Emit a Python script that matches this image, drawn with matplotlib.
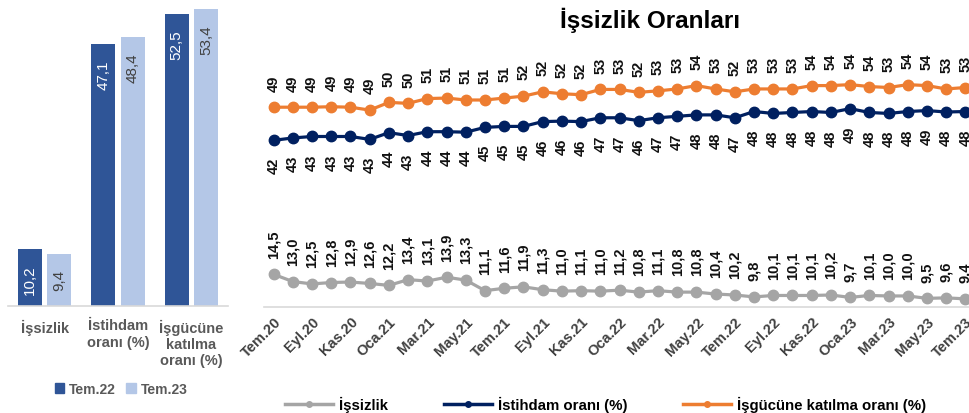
import matplotlib
matplotlib.use("Agg")
import matplotlib.pyplot as plt
from matplotlib.lines import Line2D
from matplotlib.patches import Patch
import numpy as np

plt.rcParams['font.family'] = ['Liberation Sans', 'DejaVu Sans']

# bar chart data
bar_cats = ['İşsizlik', 'İstihdam\noranı (%)', 'İşgücüne\nkatılma\noranı (%)']
tem22 = [10.2, 47.1, 52.5]
tem23 = [9.4, 48.4, 53.4]

# monthly series, Tem.20 .. Tem.23
issizlik = [14.5, 13.0, 12.5, 12.8, 12.9, 12.6, 12.2, 13.4, 13.1, 13.9, 13.3, 11.1, 11.6,
            11.9, 11.3, 11.0, 11.1, 11.0, 11.2, 10.8, 11.1, 10.8, 10.8, 10.4, 10.2, 9.8,
            10.1, 10.1, 10.1, 10.2, 9.7, 10.1, 10.0, 10.0, 9.5, 9.6, 9.4]
istihdam = [42.4, 42.9, 43.2, 43.2, 43.2, 42.6, 44.0, 43.4, 44.2, 44.2, 44.1, 45.1, 45.3,
            45.3, 46.3, 46.4, 46.3, 47.1, 47.1, 46.5, 47.1, 47.4, 47.7, 47.7, 47.1, 48.4,
            48.0, 48.2, 48.4, 48.2, 49.0, 48.2, 48.0, 48.4, 48.6, 48.3, 48.4]
katilim = [49.3, 49.3, 49.3, 49.4, 49.3, 48.7, 50.3, 50.1, 51.1, 51.2, 50.8, 50.8, 51.2,
           51.6, 52.5, 52.1, 51.9, 53.0, 53.0, 52.4, 52.7, 53.1, 53.8, 53.1, 52.5, 53.1,
           53.1, 53.1, 53.8, 53.8, 54.0, 53.6, 53.4, 54.0, 53.8, 53.1, 53.4]
tick_labels = ['Tem.20', 'Eyl.20', 'Kas.20', 'Oca.21', 'Mar.21', 'May.21', 'Tem.21',
               'Eyl.21', 'Kas.21', 'Oca.22', 'Mar.22', 'May.22', 'Tem.22', 'Eyl.22',
               'Kas.22', 'Oca.23', 'Mar.23', 'May.23', 'Tem.23']

W, H = 970, 414
fig = plt.figure(figsize=(W / 100, H / 100), dpi=100)

dark = '#2F5597'
light = '#B4C7E7'
txt = '#595959'

# ---- left: bars
ax1 = fig.add_axes([8 / W, 107 / H, 220 / W, 302 / H])
x = np.arange(len(bar_cats))
bw = 0.33
b1 = ax1.bar(x - 0.2, tem22, bw, color=dark)
b2 = ax1.bar(x + 0.2, tem23, bw, color=light)
for bars, vals, c in [(b1, tem22, 'white'), (b2, tem23, '#404040')]:
    for r, v in zip(bars, vals):
        ax1.annotate(f'{v:.1f}'.replace('.', ','), (r.get_x() + r.get_width() / 2, v),
                     xytext=(0, -11), textcoords='offset points', rotation=90,
                     ha='center', va='top', fontsize=11, color=c)
ax1.set_xlim(-0.5, 2.5)
ax1.set_ylim(0, 54.3)
ax1.set_xticks(x)
ax1.set_xticklabels(bar_cats, fontsize=10.5, color=txt, fontweight='bold', linespacing=1.2)
ax1.tick_params(axis='x', length=0, pad=9)
ax1.set_yticks([])
for s in ['top', 'right', 'left']:
    ax1.spines[s].set_visible(False)
ax1.spines['bottom'].set_color('#D9D9D9')
ax1.spines['bottom'].set_linewidth(1.2)
fig.legend(handles=[Patch(color=dark, label='Tem.22'), Patch(color=light, label='Tem.23')],
           loc='center', bbox_to_anchor=(121 / W, 1 - 390 / H), ncol=2, frameon=False,
           handlelength=0.7, handleheight=0.7, handletextpad=0.3, columnspacing=0.8,
           prop={'size': 10, 'weight': 'bold'}, labelcolor=txt)

# ---- right: lines
ax2 = fig.add_axes([264 / W, 106 / H, 711 / W, 268 / H])
t = np.arange(len(issizlik))
series = [(issizlik, '#A5A5A5', 'İşsizlik', 'up', '{:.1f}'),
          (istihdam, '#002060', 'İstihdam oranı (%)', 'down', '{:.0f}'),
          (katilim, '#ED7D31', 'İşgücüne katılma oranı (%)', 'up', '{:.0f}')]
handles = []
for vals, c, lab, pos, fmt in series:
    ax2.plot(t, vals, color=c, lw=2.3, marker='o', ms=7.5, clip_on=False, zorder=3)
    handles.append(Line2D([0], [0], color=c, lw=2.5, marker='o', ms=4, label=lab))
    for i, v in zip(t, vals):
        if pos == 'up':
            ax2.annotate(fmt.format(v).replace('.', ','), (i, v), xytext=(0, 12),
                         textcoords='offset points', rotation=90, ha='center',
                         va='bottom', fontsize=10.5, fontweight='bold', color='#111111')
        else:
            ax2.annotate(fmt.format(v), (i, v), xytext=(0, -12),
                         textcoords='offset points', rotation=90, ha='center',
                         va='top', fontsize=10.5, fontweight='bold', color='#111111')
ax2.set_xlim(-0.5, 36.5)
ax2.set_ylim(7.7, 63.5)
ax2.set_xticks(t[::2])
ax2.set_xticklabels(tick_labels, rotation=45, ha='right', va='top', rotation_mode='anchor',
                    fontsize=10.5, fontweight='bold', color='#404040')
ax2.tick_params(axis='x', length=0, pad=5)
ax2.set_yticks([])
for s in ['top', 'right', 'left']:
    ax2.spines[s].set_visible(False)
ax2.spines['bottom'].set_color('#D9D9D9')
ax2.spines['bottom'].set_linewidth(1.2)

fig.text(650 / W, 1 - 20 / H, 'İşsizlik Oranları', ha='center', va='center',
         fontsize=17.5, fontweight='bold')
fig.legend(handles=handles, loc='center left', bbox_to_anchor=(272 / W, 1 - 405 / H),
           ncol=3, frameon=False, handlelength=3.2, handletextpad=0.4, columnspacing=3.7,
           prop={'size': 10.8, 'weight': 'bold'})

fig.savefig('out.png', dpi=100)
